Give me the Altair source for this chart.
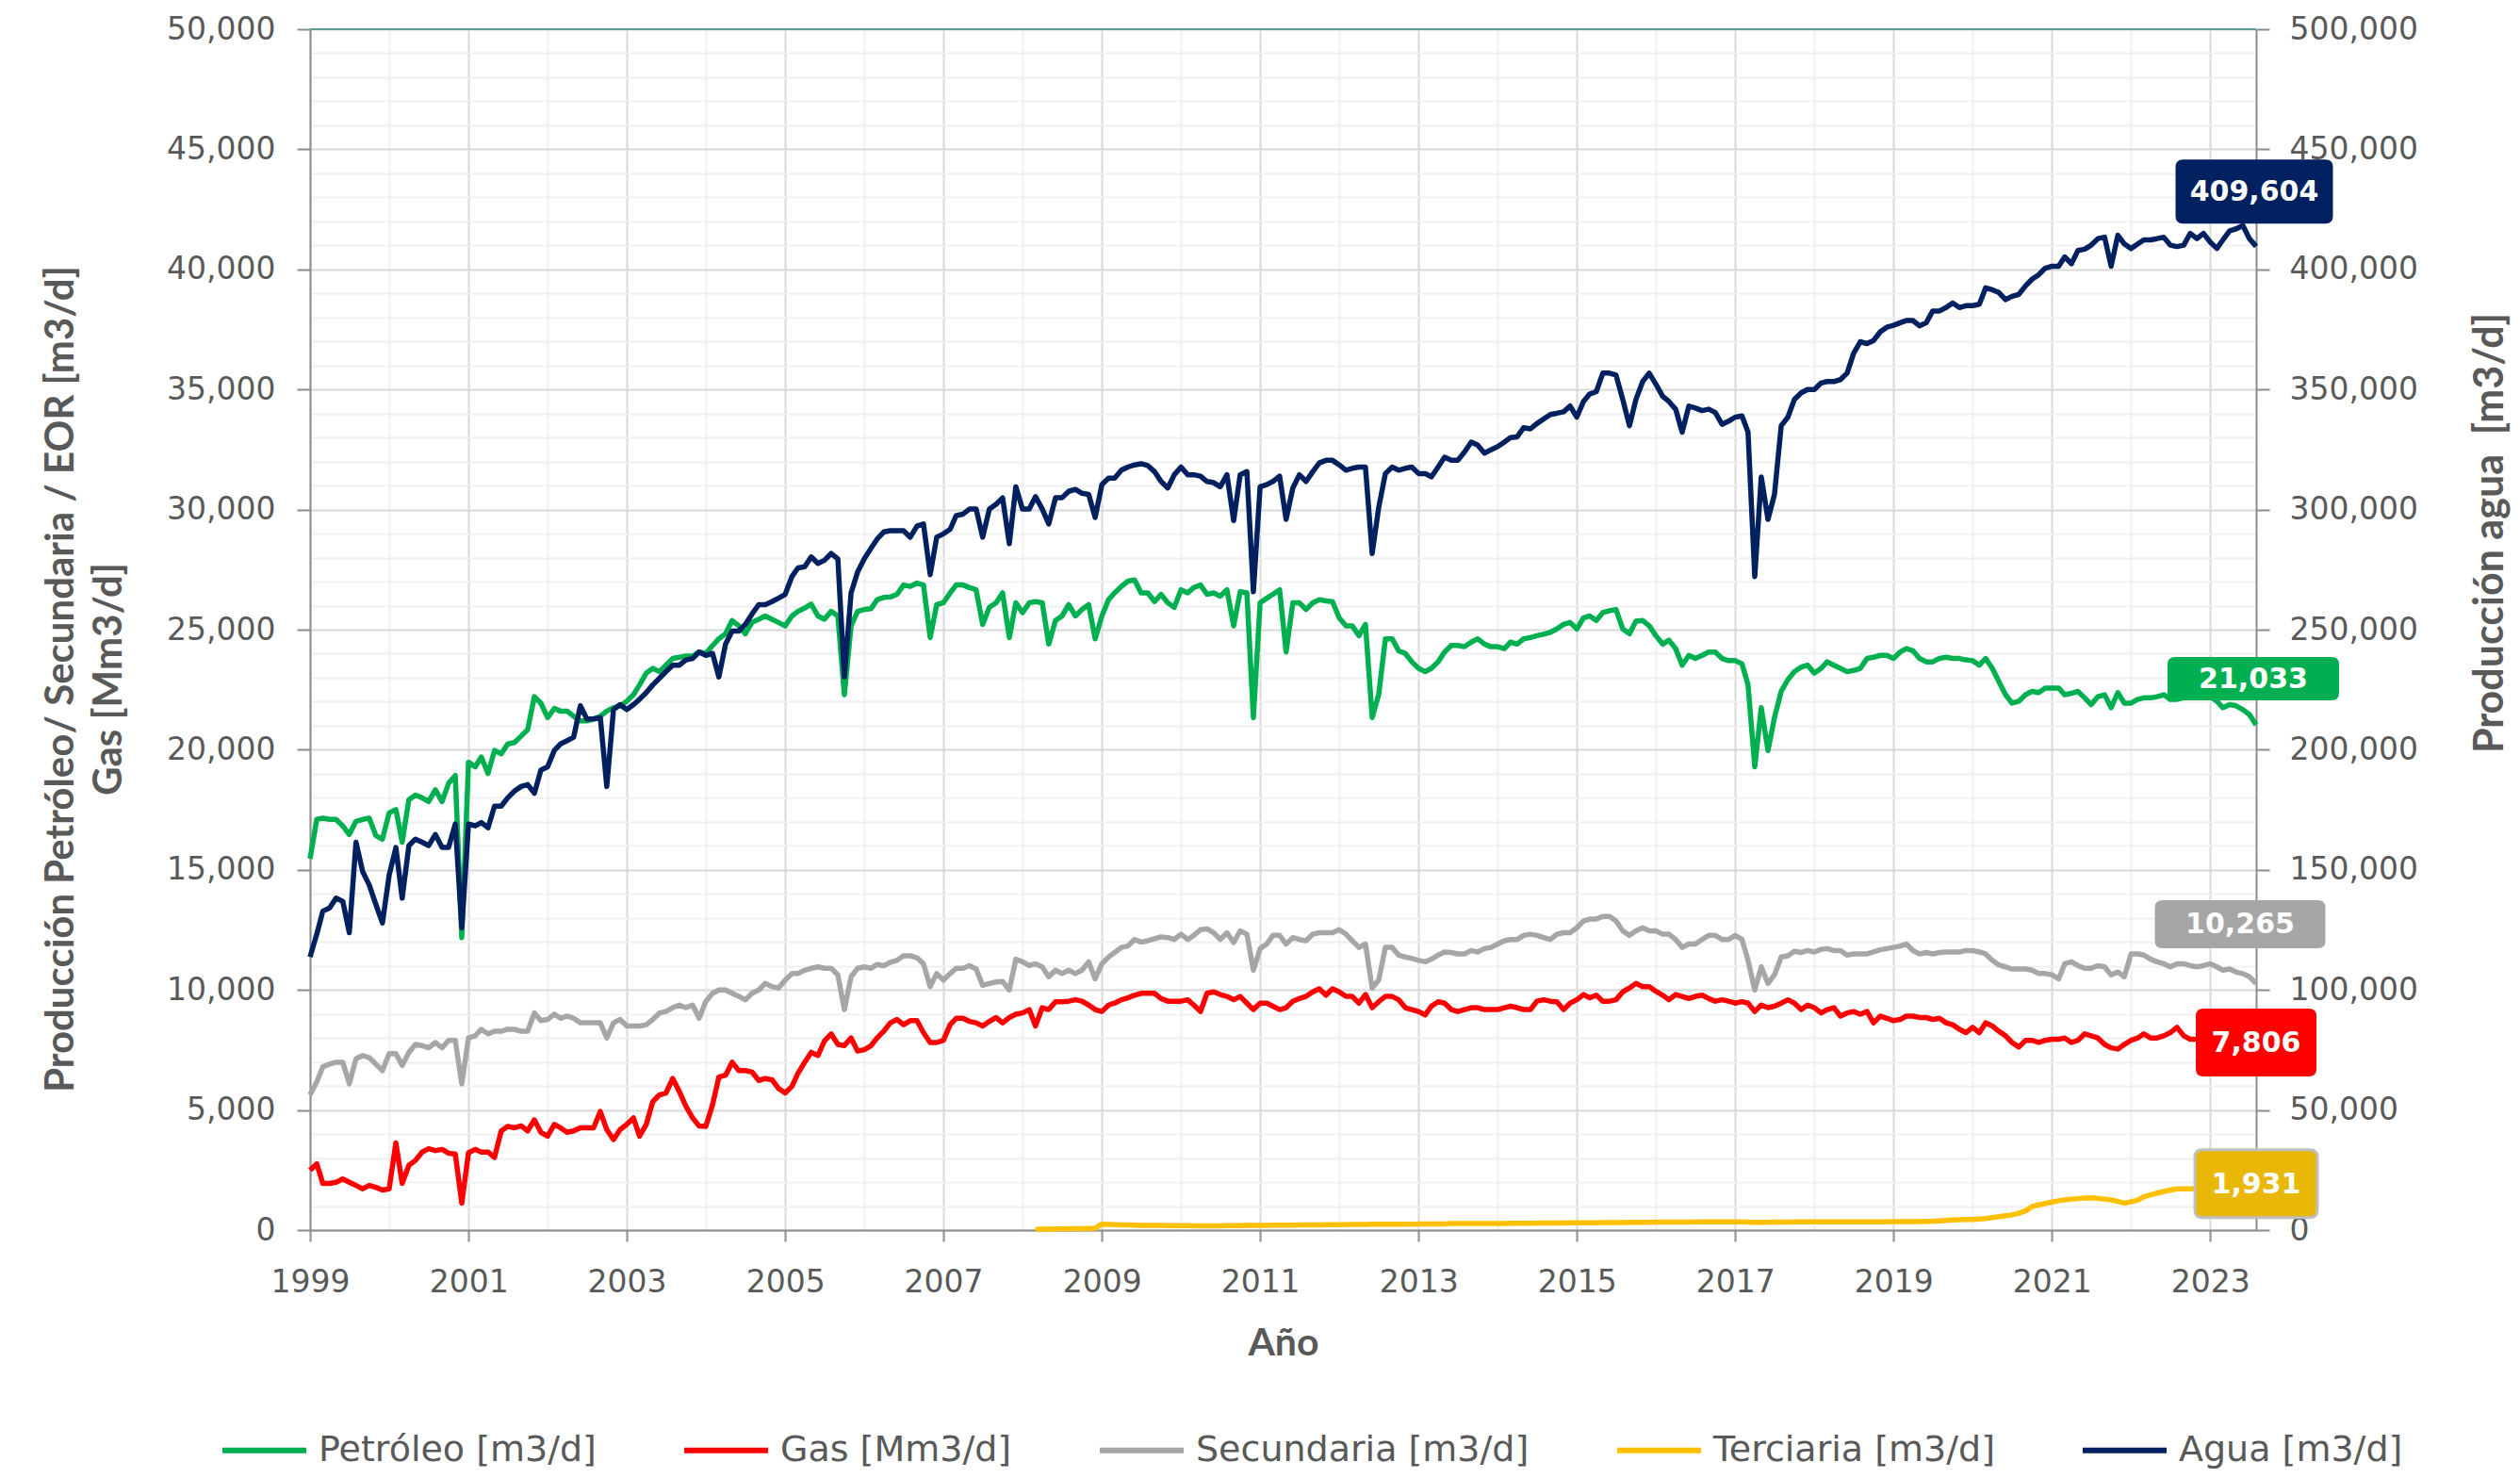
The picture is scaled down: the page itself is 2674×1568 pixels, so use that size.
import altair as alt
import pandas as pd

START_YEAR = 1999
N_MONTHS = 296  # Jan-1999 .. Aug-2023 (monthly)

# ---------------- data ----------------
petroleo = [
    15460, 17100, 17150, 17100, 17100, 16830, 16470, 17020, 17100, 17150, 16420, 16280,
    17370, 17510, 16150, 17920, 18110, 18000, 17840, 18330, 17840, 18600, 18930, 12180,
    19480, 19290, 19700, 19010, 19970, 19830, 20240, 20300, 20570, 20840, 22210, 21940,
    21340, 21720, 21610, 21610, 21390, 21200, 21200, 21280, 21390, 21610, 21750, 21830,
    22020, 22290, 22700, 23190, 23390, 23250, 23520, 23800, 23850, 23900, 23900, 24070,
    24010, 24340, 24620, 24830, 25380, 25160, 24830, 25300, 25430, 25570, 25430, 25300,
    25160, 25570, 25760, 25900, 26060, 25570, 25430, 25760, 25570, 22290, 25160, 25760,
    25840, 25870, 26250, 26340, 26360, 26470, 26860, 26800, 26940, 26860, 24670, 26040,
    26120, 26530, 26860, 26860, 26750, 26660, 25220, 25930, 26120, 26530, 24670, 26120,
    25710, 26120, 26170, 26120, 24400, 25380, 25570, 26040, 25570, 25840, 26040, 24620,
    25570, 26250, 26530, 26800, 27020, 27070, 26530, 26530, 26170, 26470, 26120, 25930,
    26660, 26530, 26750, 26860, 26470, 26530, 26390, 26660, 25160, 26580, 26530, 21340,
    26120, 26310, 26470, 26660, 24070, 26120, 26120, 25840, 26120, 26250, 26200, 26170,
    25490, 25160, 25160, 24750, 25220, 21340, 22290, 24620, 24620, 24120, 24010, 23660,
    23390, 23250, 23390, 23660, 24070, 24340, 24340, 24290, 24480, 24620, 24400, 24290,
    24290, 24210, 24480, 24400, 24620, 24670, 24750, 24810, 24890, 25030, 25220, 25300,
    25030, 25490, 25570, 25380, 25710, 25790, 25840, 25030, 24830, 25350, 25380, 25160,
    24750, 24400, 24560, 24210, 23520, 23930, 23800, 23930, 24070, 24070, 23800, 23710,
    23710, 23580, 22700, 19290, 21750, 19970, 21340, 22430, 22920, 23250, 23440, 23520,
    23190, 23390, 23660, 23520, 23390, 23250, 23300, 23390, 23800, 23850, 23930, 23930,
    23800, 24070, 24210, 24120, 23800, 23660, 23660, 23800, 23850, 23800, 23800, 23740,
    23710, 23520, 23800, 23390, 22840, 22290, 21940, 22020, 22290, 22430, 22380, 22570,
    22570, 22570, 22290, 22350, 22430, 22160, 21880, 22210, 22290, 21750, 22380, 21940,
    21940, 22100, 22160, 22160, 22210, 22290, 22100, 22100, 22160, 22290, 22430, 22570,
    22210, 22020, 21750, 21880, 21830, 21670, 21470, 21033,
]

gas = [
    2490, 2760, 1940, 1940, 1990, 2130, 1990, 1860, 1720, 1860, 1780, 1670,
    1720, 3630, 1940, 2700, 2900, 3250, 3390, 3310, 3360, 3200, 3170, 1120,
    3220, 3360, 3250, 3250, 3030, 4130, 4320, 4260, 4340, 4130, 4590, 4070,
    3910, 4400, 4260, 4070, 4130, 4260, 4260, 4260, 4940, 4180, 3770, 4180,
    4400, 4670, 3910, 4400, 5350, 5630, 5710, 6310, 5760, 5160, 4670, 4340,
    4320, 5220, 6370, 6450, 6990, 6640, 6640, 6580, 6230, 6310, 6260, 5900,
    5710, 5980, 6530, 6990, 7400, 7270, 7870, 8170, 7730, 7680, 8000, 7460,
    7510, 7680, 8000, 8280, 8630, 8770, 8550, 8720, 8720, 8220, 7810, 7810,
    7900, 8550, 8820, 8820, 8690, 8630, 8500, 8690, 8850, 8630, 8850, 8990,
    9040, 9180, 8500, 9260, 9180, 9510, 9510, 9530, 9590, 9530, 9370, 9180,
    9100, 9370, 9450, 9590, 9670, 9780, 9860, 9860, 9860, 9640, 9530, 9530,
    9530, 9590, 9370, 9100, 9860, 9920, 9810, 9730, 9590, 9730, 9450, 9180,
    9450, 9450, 9320, 9180, 9260, 9530, 9640, 9730, 9920, 10050, 9780, 10050,
    9920, 9730, 9730, 9450, 9810, 9260, 9510, 9730, 9730, 9590, 9260, 9180,
    9100, 8960, 9320, 9510, 9450, 9180, 9100, 9180, 9260, 9260, 9180, 9180,
    9180, 9260, 9320, 9260, 9180, 9180, 9530, 9590, 9530, 9510, 9180, 9450,
    9590, 9810, 9670, 9780, 9530, 9530, 9590, 9920, 10080, 10270, 10140, 10140,
    9940, 9780, 9590, 9810, 9730, 9640, 9730, 9780, 9640, 9530, 9590, 9530,
    9450, 9510, 9450, 9100, 9370, 9260, 9320, 9450, 9590, 9450, 9180, 9370,
    9260, 9040, 9180, 9260, 8910, 9040, 9100, 8990, 9100, 8630, 8910, 8820,
    8720, 8770, 8910, 8910, 8850, 8850, 8770, 8820, 8630, 8550, 8360, 8220,
    8440, 8220, 8630, 8500, 8280, 8090, 7810, 7620, 7900, 7900, 7810, 7900,
    7950, 7950, 8000, 7810, 7900, 8170, 8090, 8000, 7730, 7590, 7540, 7730,
    7900, 8000, 8170, 8000, 8000, 8090, 8220, 8440, 8090, 7950, 7950, 7900,
    7950, 7880, 7900, 7850, 7900, 7850, 7820, 7806,
]

secundaria = [
    5630, 6170, 6800, 6910, 6990, 6990, 6090, 7130, 7270, 7180, 6910, 6640,
    7350, 7350, 6860, 7400, 7730, 7680, 7590, 7810, 7590, 7900, 7900, 6090,
    8000, 8090, 8360, 8170, 8280, 8280, 8360, 8360, 8280, 8280, 9040, 8720,
    8770, 8990, 8820, 8910, 8820, 8630, 8630, 8630, 8630, 8000, 8630, 8770,
    8500, 8500, 8500, 8550, 8770, 9040, 9100, 9260, 9370, 9260, 9370, 8820,
    9530, 9860, 10000, 10000, 9860, 9730, 9590, 9860, 10000, 10270, 10140, 10080,
    10410, 10680, 10680, 10820, 10900, 10960, 10900, 10900, 10630, 9180, 10550, 10900,
    10960, 10900, 11060, 11010, 11150, 11230, 11420, 11420, 11340, 11090, 10140, 10680,
    10410, 10680, 10900, 10900, 11010, 10870, 10190, 10270, 10330, 10350, 10000, 11280,
    11170, 11010, 11090, 10960, 10550, 10820, 10680, 10820, 10680, 10820, 11170, 10460,
    11090, 11370, 11560, 11770, 11830, 12100, 11990, 12050, 12130, 12210, 12180, 12100,
    12320, 12100, 12270, 12510, 12540, 12380, 12100, 12380, 11970, 12460, 12320, 10820,
    11720, 11910, 12270, 12270, 11910, 12180, 12100, 12050, 12320, 12380, 12380, 12380,
    12510, 12320, 12050, 11770, 11910, 10080, 10410, 11770, 11770, 11450, 11370, 11310,
    11230, 11170, 11280, 11450, 11580, 11560, 11500, 11500, 11640, 11580, 11720, 11770,
    11910, 12050, 12100, 12100, 12270, 12320, 12270, 12180, 12100, 12320, 12380, 12380,
    12590, 12870, 12950, 12950, 13060, 13060, 12870, 12460, 12270, 12460, 12590, 12460,
    12460, 12320, 12320, 12100, 11770, 11910, 11910, 12100, 12270, 12270, 12100, 12100,
    12270, 12100, 11230, 10000, 10960, 10270, 10630, 11370, 11420, 11610, 11560, 11640,
    11580, 11690, 11720, 11640, 11640, 11450, 11500, 11500, 11500, 11580, 11670, 11720,
    11770, 11830, 11910, 11640, 11500, 11560, 11500, 11560, 11580, 11580, 11580, 11640,
    11640, 11580, 11500, 11230, 11040, 10960, 10870, 10870, 10870, 10820, 10680, 10680,
    10630, 10460, 11090, 11170, 11010, 10900, 10900, 11010, 10960, 10630, 10740, 10550,
    11500, 11500, 11450, 11280, 11170, 11090, 10960, 11090, 11090, 11010, 10960, 11010,
    11090, 10960, 10820, 10870, 10740, 10680, 10550, 10265,
]

TERCIARIA_START = 110  # Mar-2008
terciaria = [
    30, 40, 40, 50, 50, 60, 60, 60, 70, 80,
    250, 240, 230, 220, 220, 210, 200, 200, 200, 200, 190, 190,
    190, 190, 180, 180, 180, 180, 180, 190, 190, 190, 200, 200,
    200, 200, 210, 210, 210, 210, 220, 220, 220, 220, 230, 230,
    230, 230, 240, 240, 240, 250, 250, 250, 250, 250, 250, 250,
    260, 260, 260, 260, 260, 270, 270, 270, 270, 270, 270, 270,
    270, 270, 280, 280, 280, 280, 290, 290, 290, 290, 290, 300,
    300, 300, 300, 300, 310, 310, 310, 310, 320, 320, 320, 320,
    330, 330, 330, 330, 330, 330, 340, 340, 340, 340, 340, 340,
    340, 340, 330, 320, 320, 320, 330, 330, 330, 340, 340, 340,
    340, 340, 340, 340, 340, 340, 340, 340, 340, 340, 340, 340,
    350, 350, 350, 350, 350, 360, 360, 380, 400, 420, 430, 440,
    440, 460, 480, 520, 560, 600, 630, 700, 800, 980, 1050, 1110,
    1170, 1220, 1260, 1290, 1310, 1330, 1340, 1320, 1290, 1260, 1190, 1120,
    1180, 1250, 1390, 1470, 1540, 1610, 1670, 1720, 1720, 1720, 1730, 1760,
    1800, 1840, 1870, 1890, 1900, 1910, 1920, 1931,
]

agua = [
    113700, 123200, 132800, 134100, 138200, 136900, 123800, 161500, 149200, 143700, 135500, 127900,
    147800, 159300, 138200, 160100, 162800, 161500, 160100, 164700, 159300, 159300, 169100, 125900,
    169100, 168300, 169700, 167500, 176500, 176500, 180000, 182800, 184700, 185500, 181900, 191500,
    192900, 199700, 202400, 203800, 205200, 218300, 212800, 212800, 213400, 184700, 216700, 218800,
    216700, 218800, 221000, 223800, 227000, 229800, 232500, 235200, 235200, 237400, 238000, 240700,
    239300, 240100, 230300, 244000, 249400, 249400, 252200, 256500, 260400, 260400, 261700, 263100,
    264700, 272100, 275700, 276200, 280300, 277600, 278900, 281700, 279500, 230300, 265300, 274000,
    279500, 283900, 287700, 290700, 291200, 291200, 291200, 288500, 293100, 294000, 272900, 288500,
    289900, 291800, 297500, 298100, 300200, 300200, 288500, 300200, 302200, 304900, 285800, 309500,
    300200, 300200, 305400, 300200, 294000, 304900, 304900, 307600, 308400, 306800, 306300, 296700,
    310400, 313100, 313100, 316400, 317700, 318600, 319100, 318300, 315800, 311700, 309000, 314500,
    317700, 314500, 314500, 313900, 311700, 311200, 309500, 314500, 295400, 314500, 315800, 265800,
    309500, 310400, 311700, 313900, 295900, 309000, 314500, 311700, 315800, 319400, 320500, 320500,
    318600, 316400, 317200, 317700, 317700, 281700, 300800, 315000, 317700, 316400, 317200, 317700,
    315000, 315000, 313600, 317700, 321800, 320500, 320500, 324000, 328100, 326800, 323500, 324900,
    326200, 328100, 330000, 330300, 334100, 333600, 335800, 337700, 339600, 340100, 340700, 343100,
    338500, 345000, 348100, 349100, 356800, 356800, 356000, 345900, 334900, 345900, 353300, 356800,
    352200, 347200, 345000, 341800, 332200, 343100, 342300, 341200, 341800, 340400, 335500, 336800,
    338500, 339000, 332200, 272100, 313600, 295900, 306300, 334900, 338500, 345900, 348600, 350000,
    350000, 352700, 353300, 353300, 354100, 356800, 365000, 369900, 369100, 370400, 374000, 375900,
    376700, 377800, 378700, 378700, 376500, 377800, 382700, 382700, 384100, 386000, 384100, 384900,
    384900, 385500, 392300, 391500, 390400, 387400, 388800, 389600, 393100, 395900, 397800, 400500,
    401300, 401300, 405200, 402400, 407900, 408400, 410100, 412800, 413400, 401300, 414200, 410600,
    408700, 410600, 412300, 412300, 412800, 413400, 410100, 409500, 410100, 415000, 412800, 415000,
    411400, 408700, 412300, 416100, 416900, 418300, 412800, 409604,
]

series_names = ["Petróleo [m3/d]", "Gas [Mm3/d]", "Secundaria [m3/d]",
                "Terciaria [m3/d]", "Agua [m3/d]"]
series_colors = ["#00b050", "#ff0000", "#a6a6a6", "#ffc000", "#002060"]

# ---------------- tables ----------------
dates = pd.to_datetime([f"{START_YEAR + i // 12}-{i % 12 + 1:02d}-01" for i in range(N_MONTHS)])

left_rows = []
for name, vals, start in [(series_names[0], petroleo, 0), (series_names[1], gas, 0),
                          (series_names[2], secundaria, 0),
                          (series_names[3], terciaria, TERCIARIA_START)]:
    for i, v in enumerate(vals):
        left_rows.append({"date": dates[start + i], "value": v, "serie": name})
df_left = pd.DataFrame(left_rows)
df_agua = pd.DataFrame({"date": dates[:len(agua)], "value": agua, "serie": series_names[4]})

# ---------------- styling helpers ----------------
GRAY_TXT = "#595959"
AX_GRAY = "#8c8c8c"
W, H = 2065, 1274
LINE_W = 5.5


def rrect(w, h, r):
    hh = h / w
    ru = 2 * r / w
    a, b = 1 - ru, hh - ru
    return (f"M{-a},{-hh} L{a},{-hh} Q1,{-hh} 1,{-b} L1,{b} Q1,{hh} {a},{hh} "
            f"L{-a},{hh} Q-1,{hh} -1,{b} L-1,{-b} Q-1,{-hh} {-a},{-hh} Z")


x_enc = alt.X(
    "date:T",
    scale=alt.Scale(domain=[alt.DateTime(year=1999, month=1, date=1),
                            alt.DateTime(year=2023, month=8, date=1)]),
    axis=alt.Axis(
        values=[alt.DateTime(year=y, month=1, date=1) for y in range(1999, 2024)],
        labelExpr="year(datum.value) % 2 == 1 ? timeFormat(datum.value, '%Y') : ''",
        labelOverlap=False, labelFlush=False,
        gridColor={"condition": {"test": "year(datum.value) % 2 == 1", "value": "#d9d9d9"},
                   "value": "#f0f0f0"},
        tickOpacity={"condition": {"test": "year(datum.value) % 2 == 1", "value": 1},
                     "value": 0},
        gridWidth=2, tickSize=12, tickWidth=2, tickColor=AX_GRAY,
        domainColor=AX_GRAY, domainWidth=2,
        labelFont="DejaVu Sans", labelFontSize=33, labelColor=GRAY_TXT, labelPadding=27,
        title="Año", titleFont="Lato", titleFontSize=41, titleFontWeight="bold",
        titleColor=GRAY_TXT, titleX=W / 2, titleY=100, titleBaseline="top",
        titleAnchor="middle",
    ),
)

y_left = alt.Y(
    "value:Q",
    scale=alt.Scale(domain=[0, 50000], nice=False),
    axis=alt.Axis(
        orient="left",
        values=list(range(0, 50001, 1000)),
        labelExpr="datum.value % 5000 === 0 ? format(datum.value, ',') : ''",
        labelOverlap=False,
        gridColor={"condition": {"test": "datum.value % 5000 === 0", "value": "#d9d9d9"},
                   "value": "#f0f0f0"},
        tickOpacity={"condition": {"test": "datum.value % 5000 === 0", "value": 1},
                     "value": 0},
        gridWidth=2, tickSize=14, tickWidth=2, tickColor=AX_GRAY,
        domainColor=AX_GRAY, domainWidth=2,
        labelFont="DejaVu Sans", labelFontSize=33, labelColor=GRAY_TXT, labelPadding=23,
        title=["Producción Petróleo/ Secundaria / EOR [m3/d]", "Gas [Mm3/d]"],
        titleFont="Lato", titleFontSize=42, titleFontWeight="bold", titleColor=GRAY_TXT,
        titleAngle=270, titleAlign="center", titleBaseline="top", titleLineHeight=51,
        titleX=-285, titleY=689,
    ),
)

y_right = alt.Y(
    "value:Q",
    scale=alt.Scale(domain=[0, 500000], nice=False),
    axis=alt.Axis(
        orient="right",
        values=list(range(0, 500001, 50000)),
        labelExpr="format(datum.value, ',')",
        labelOverlap=False,
        grid=False,
        tickSize=14, tickWidth=2, tickColor=AX_GRAY,
        domainColor=AX_GRAY, domainWidth=2,
        labelFont="DejaVu Sans", labelFontSize=33, labelColor=GRAY_TXT, labelPadding=21,
        title="Producción agua\u00a0\u00a0[m3/d]",
        titleFont="Lato", titleFontSize=43, titleFontWeight="bold", titleColor=GRAY_TXT,
        titleAngle=270, titleAlign="center", titleBaseline="top",
        titleX=227, titleY=534,
    ),
)

color_enc = alt.Color(
    "serie:N",
    scale=alt.Scale(domain=series_names, range=series_colors),
    legend=alt.Legend(
        orient="none", legendX=-96, legendY=1460, direction="horizontal", title=None,
        symbolType="stroke", symbolSize=7921, symbolStrokeWidth=6,
        labelFont="DejaVu Sans", labelFontSize=38, labelColor=GRAY_TXT,
        labelOffset=10, columnPadding=81, padding=0, labelLimit=700,
    ),
)

# ---------------- layers ----------------
left_lines = alt.Chart(df_left).mark_line(strokeWidth=LINE_W, strokeJoin="round").encode(
    x=x_enc, y=y_left, color=color_enc, order=alt.Order("serie:N"))

top_rule = alt.Chart(pd.DataFrame({"value": [50000]})).mark_rule(
    color="#5b9e98", strokeWidth=2).encode(
    x=alt.value(0), x2=alt.value(W), y=y_left)

label_specs = [
    # series values, start index, fill, box w, box h, dx, dy, stroke
    (petroleo, 0, "#00b050", 182, 46, -3, -49, None),
    (secundaria, 0, "#a6a6a6", 181, 51, -17, -63, None),
    (gas, 0, "#ff0000", 128, 72, 0, 0, None),
    (terciaria, TERCIARIA_START, "#e9b706", 130, 72, 0, 0, "#bfbfbf"),
]


def label_layers(vals, start, fill, bw, bh, dx, dy, stroke, yenc):
    idx = start + len(vals) - 1
    d = pd.DataFrame({"date": [dates[idx]], "value": [vals[-1]],
                      "label": [f"{vals[-1]:,}"]})
    pkw = dict(shape=rrect(bw, bh, 8), size=bw * bw, filled=True, fill=fill,
               opacity=1, xOffset=dx, yOffset=dy)
    if stroke:
        pkw.update(stroke=stroke, strokeWidth=3)
    else:
        pkw.update(strokeWidth=0)
    box = alt.Chart(d).mark_point(**pkw).encode(x=x_enc, y=yenc)
    txt = alt.Chart(d).mark_text(
        font="DejaVu Sans", fontSize=30, fontWeight="bold", color="white",
        align="center", baseline="middle", xOffset=dx, yOffset=dy + 1).encode(
        x=x_enc, y=yenc, text="label:N")
    return [box, txt]


left_layers = [left_lines, top_rule]
for spec in label_specs:
    left_layers += label_layers(*spec, yenc=y_left)

agua_line = alt.Chart(df_agua).mark_line(strokeWidth=LINE_W, strokeJoin="round").encode(
    x=x_enc, y=y_right, color=color_enc)
right_layers = [agua_line] + label_layers(agua, 0, "#002060", 167, 68, -2, -58, None, yenc=y_right)

left_group = alt.layer(*left_layers)
right_group = alt.layer(*right_layers)

chart = alt.layer(left_group, right_group).resolve_scale(y="independent").properties(
    width=W, height=H,
    padding={"left": 321, "top": 23, "right": 270, "bottom": 254},
    autosize=alt.AutoSizeParams(type="none"),
).configure_view(strokeWidth=0).configure(background="white")

chart.save("out.html", embed_options={"renderer": "svg", "actions": False})
